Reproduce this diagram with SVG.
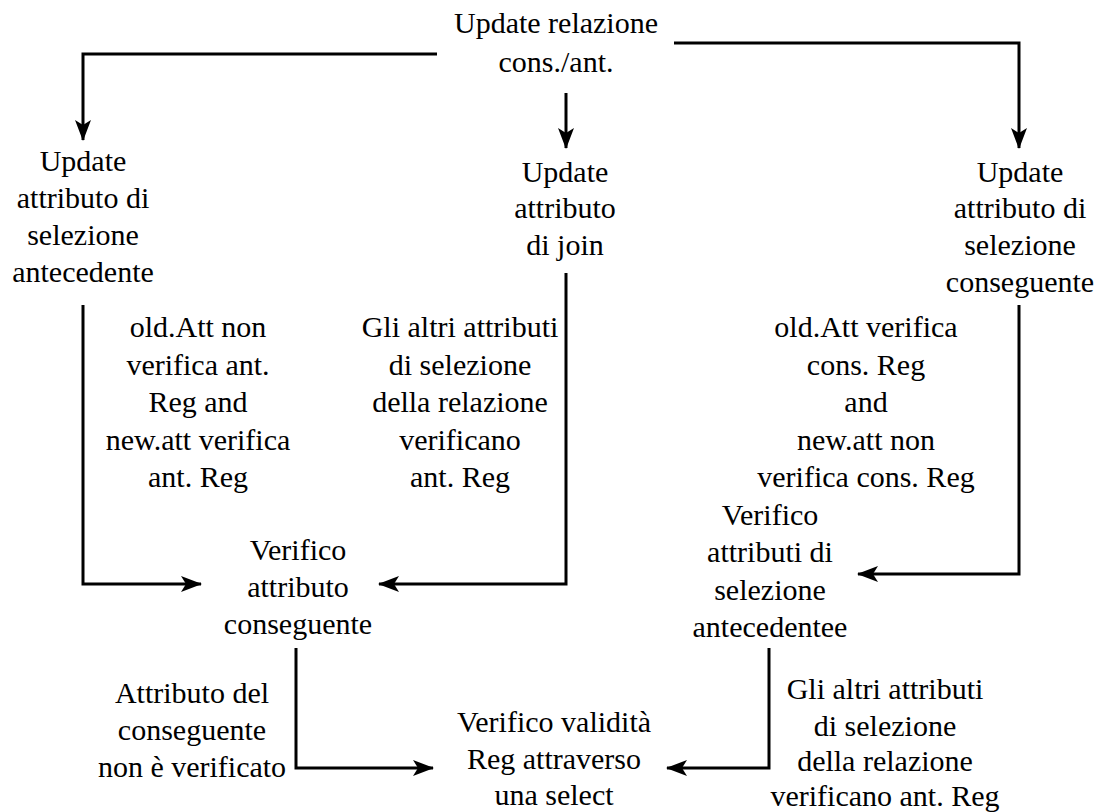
<svg xmlns="http://www.w3.org/2000/svg" width="1103" height="812" viewBox="0 0 1103 812">
  <style>
    .lbl { font-family: 'Liberation Serif', 'Times New Roman', serif; font-size: 30px; fill: #000; text-anchor: middle; }
    .wire { fill: none; stroke: #000; stroke-width: 3; }
  </style>
  <defs>
    <marker id="arrow" viewBox="0 0 21 16" refX="20" refY="8" markerWidth="21" markerHeight="16" markerUnits="userSpaceOnUse" orient="auto">
      <path d="M0,0 L21,8 L0,16 L5,8 Z" fill="#000"/>
    </marker>
  </defs>
  <rect width="1103" height="812" fill="#fff"/>

  <!-- flow arrows between the steps -->
  <g id="connectors">
    <polyline class="wire" points="437,54 83,54 83,140" marker-end="url(#arrow)"/>
    <polyline class="wire" points="674,43 1019,43 1019,148" marker-end="url(#arrow)"/>
    <line class="wire" x1="566" y1="93" x2="566" y2="148" marker-end="url(#arrow)"/>
    <polyline class="wire" points="83,305 83,584 201,584" marker-end="url(#arrow)"/>
    <polyline class="wire" points="566,273 566,584 379,584" marker-end="url(#arrow)"/>
    <polyline class="wire" points="1019,305 1019,574 858,574" marker-end="url(#arrow)"/>
    <polyline class="wire" points="296,648 296,768 433,768" marker-end="url(#arrow)"/>
    <polyline class="wire" points="769,648 769,768 667,768" marker-end="url(#arrow)"/>
  </g>

  <g id="update-relazione" class="lbl">
    <text x="556" y="33">Update relazione</text>
    <text x="556" y="72">cons./ant.</text>
  </g>

  <g id="update-sel-antecedente" class="lbl">
    <text x="83" y="171">Update</text>
    <text x="83" y="208">attributo di</text>
    <text x="83" y="245">selezione</text>
    <text x="83" y="282">antecedente</text>
  </g>

  <g id="update-join" class="lbl">
    <text x="565" y="182">Update</text>
    <text x="565" y="218">attributo</text>
    <text x="565" y="255">di join</text>
  </g>

  <g id="update-sel-conseguente" class="lbl">
    <text x="1020" y="182">Update</text>
    <text x="1020" y="218">attributo di</text>
    <text x="1020" y="255">selezione</text>
    <text x="1020" y="292">conseguente</text>
  </g>

  <g id="label-old-non-verifica" class="lbl">
    <text x="198" y="337">old.Att non</text>
    <text x="198" y="375">verifica ant.</text>
    <text x="198" y="412">Reg and</text>
    <text x="198" y="450">new.att verifica</text>
    <text x="198" y="487">ant. Reg</text>
  </g>

  <g id="label-altri-join" class="lbl">
    <text x="460" y="337">Gli altri attributi</text>
    <text x="460" y="375">di selezione</text>
    <text x="460" y="412">della relazione</text>
    <text x="460" y="450">verificano</text>
    <text x="460" y="487">ant. Reg</text>
  </g>

  <g id="label-old-verifica" class="lbl">
    <text x="866" y="337">old.Att verifica</text>
    <text x="866" y="375">cons. Reg</text>
    <text x="866" y="412">and</text>
    <text x="866" y="450">new.att non</text>
    <text x="866" y="487">verifica cons. Reg</text>
  </g>

  <g id="verifico-conseguente" class="lbl">
    <text x="298" y="560">Verifico</text>
    <text x="298" y="597">attributo</text>
    <text x="298" y="634">conseguente</text>
  </g>

  <g id="verifico-antecedente" class="lbl">
    <text x="770" y="525">Verifico</text>
    <text x="770" y="562">attributi di</text>
    <text x="770" y="600">selezione</text>
    <text x="770" y="637">antecedentee</text>
  </g>

  <g id="label-non-verificato" class="lbl">
    <text x="192" y="703">Attributo del</text>
    <text x="192" y="740">conseguente</text>
    <text x="192" y="777">non è verificato</text>
  </g>

  <g id="verifico-validita" class="lbl">
    <text x="554" y="732">Verifico validità</text>
    <text x="554" y="769">Reg attraverso</text>
    <text x="554" y="805">una select</text>
  </g>

  <g id="label-altri-ant" class="lbl">
    <text x="885" y="699">Gli altri attributi</text>
    <text x="885" y="736">di selezione</text>
    <text x="885" y="771">della relazione</text>
    <text x="885" y="806">verificano ant. Reg</text>
  </g>
</svg>
